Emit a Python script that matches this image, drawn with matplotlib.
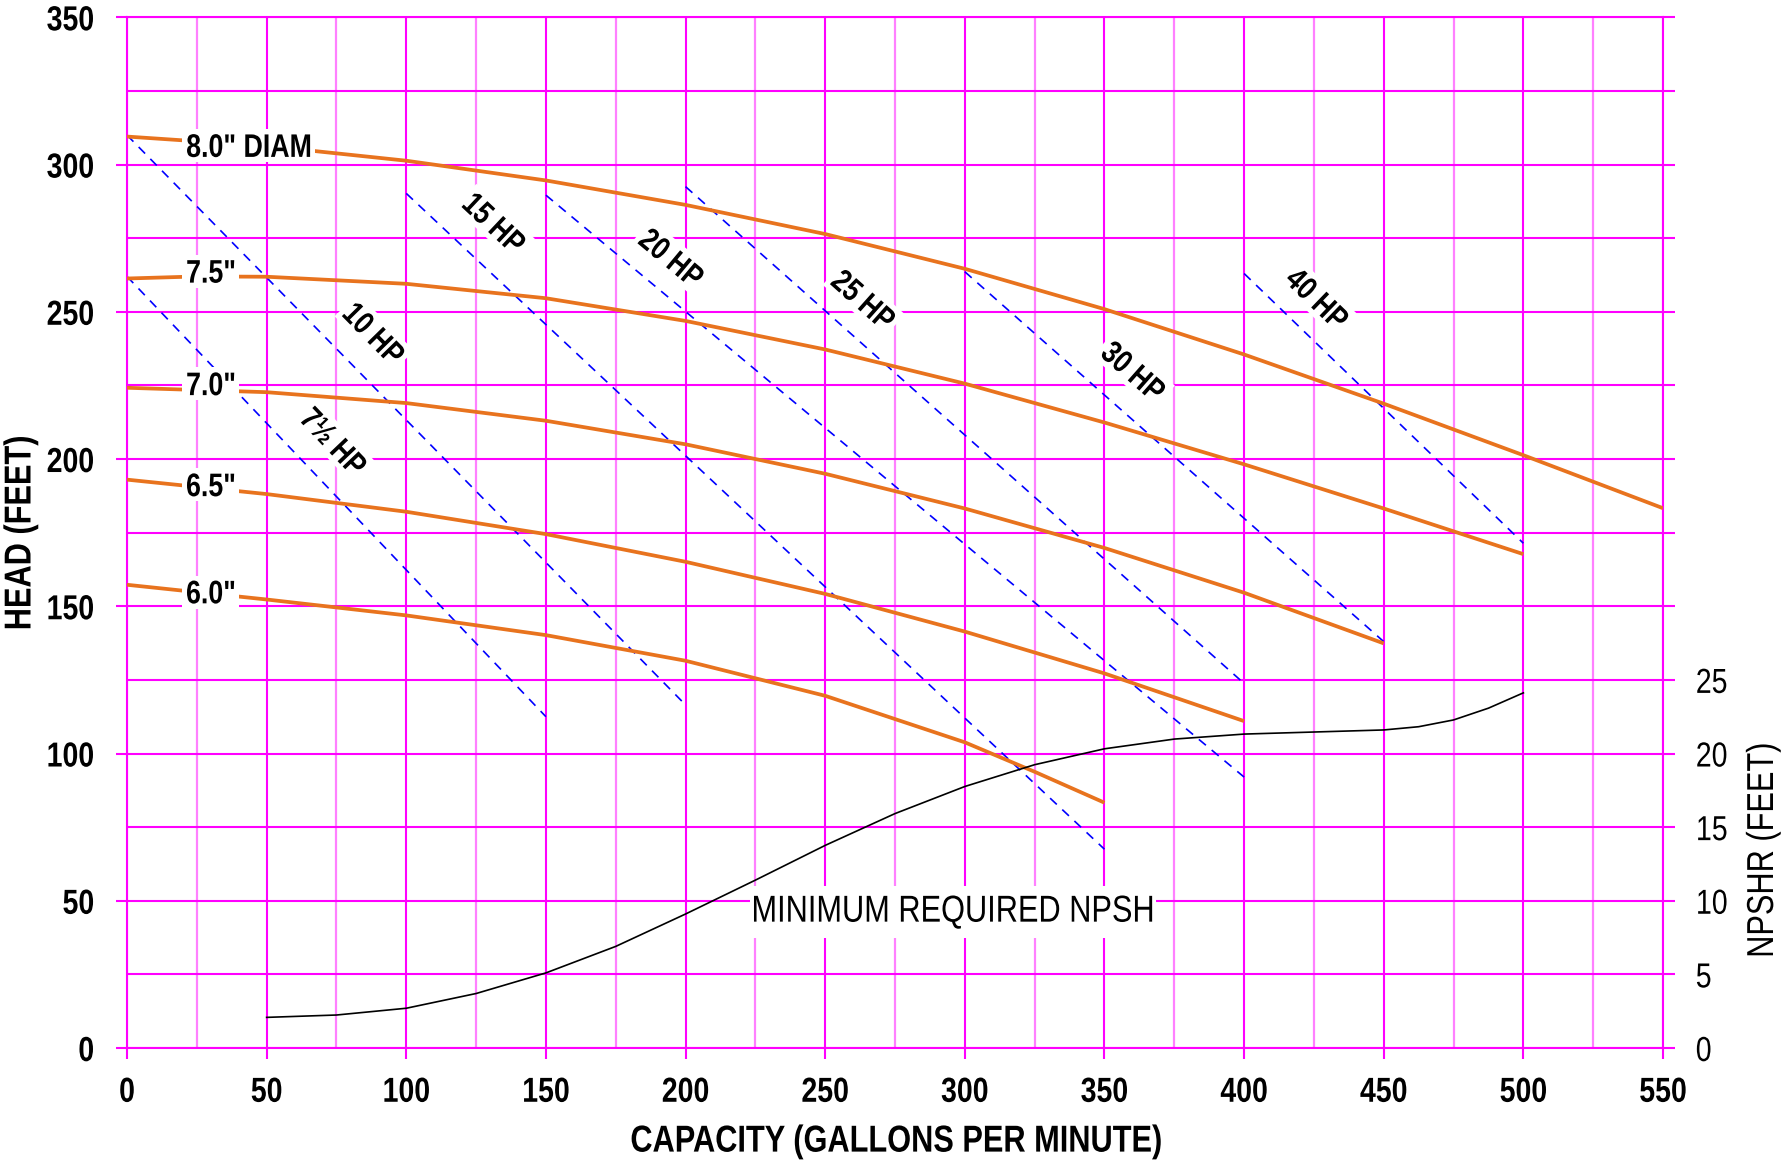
import numpy as np
import matplotlib
matplotlib.use("Agg")
import matplotlib.pyplot as plt
from matplotlib import font_manager
from matplotlib.patheffects import AbstractPathEffect
from matplotlib.transforms import Affine2D
from matplotlib.path import Path

# ---------------- data ----------------
gpm_8_0 = [0, 50, 100, 150, 200, 250, 300, 350, 400, 450, 500, 550]
head_8_0 = [309.5, 306.3, 301.3, 294.6, 286.3, 276.4, 264.6, 250.9, 235.5, 218.8, 201.3, 183.3]

gpm_7_5 = [0, 25, 50, 100, 150, 200, 250, 300, 350, 400, 450, 500]
head_7_5 = [261.3, 262.0, 261.9, 259.5, 254.6, 246.9, 237.2, 225.6, 212.4, 198.2, 183.2, 167.7]

gpm_7_0 = [0, 50, 100, 150, 200, 250, 300, 350, 400, 450]
head_7_0 = [224.2, 222.7, 219.0, 213.0, 205.0, 195.0, 183.2, 169.8, 154.6, 137.4]

gpm_6_5 = [0, 50, 100, 150, 200, 250, 300, 350, 400]
head_6_5 = [193.0, 188.1, 182.1, 174.5, 165.1, 154.2, 141.4, 127.2, 111.0]

gpm_6_0 = [0, 50, 100, 150, 200, 250, 300, 325, 350]
head_6_0 = [157.3, 152.3, 146.9, 140.2, 131.5, 119.6, 103.8, 93.8, 83.3]

diam_labels = ['8.0" DIAM', '7.5"', '7.0"', '6.5"', '6.0"']
diam_label_gpm = [43.7, 30.1, 30.1, 30.1, 30.1]
diam_label_head = [302.6, 259.9, 221.7, 187.4, 151.0]

hp_labels = ['7½ HP', '10 HP', '15 HP', '20 HP', '25 HP', '30 HP', '40 HP']
hp_start_gpm = [0, 0, 100, 150, 200, 300, 400]
hp_start_head = [262.0, 310.0, 290.2, 289.6, 292.5, 263.6, 263.0]
hp_end_gpm = [150, 200, 350, 400, 400, 450, 500]
hp_end_head = [112.5, 116.5, 67.5, 92.0, 123.8, 138.0, 171.4]
hp_label_gpm = [73.3, 87.7, 130.8, 194.4, 263.1, 359.8, 425.6]
hp_label_head = [205.3, 242.0, 279.5, 267.6, 253.4, 229.1, 253.8]

npsh_gpm = [50, 75, 100, 125, 150, 175, 200, 225, 250, 275, 300, 325, 350, 375,
            400, 425, 450, 462.5, 475, 487.5, 500]
npsh_ft = [2.08, 2.24, 2.70, 3.70, 5.10, 6.90, 9.10, 11.40, 13.76, 15.92, 17.76,
           19.24, 20.32, 20.98, 21.32, 21.46, 21.60, 21.82, 22.28, 23.08, 24.12]

x_ticks = list(range(0, 551, 50))
y_ticks = list(range(0, 351, 50))
npsh_ticks = list(range(0, 26, 5))

# ---------------- style ----------------
names = {f.name for f in font_manager.fontManager.ttflist}
HAS_NARROW = "Liberation Sans Narrow" in names
NARROW = "Liberation Sans Narrow" if HAS_NARROW else "Liberation Sans"
SX = 1.0 if HAS_NARROW else 0.82
plt.rcParams["font.family"] = [NARROW, "DejaVu Sans"]

MAG = "#FF00FF"
MAG_L = "#FF80FF"
ORANGE = "#E8731E"
BLUE = "#0000FF"


class Squeeze(AbstractPathEffect):
    """Condense glyphs horizontally (narrow typeface look), optional white box."""

    def __init__(self, sx=SX, anchor="center", bg=False, padx=4, pady=4):
        super().__init__()
        self.sx, self.anchor, self.bg = sx, anchor, bg
        self.padx, self.pady = padx, pady

    def draw_path(self, renderer, gc, tpath, affine, rgbFace=None):
        ext = tpath.get_extents()
        if self.anchor == "left":
            cx = ext.x0
        elif self.anchor == "right":
            cx = ext.x1
        else:
            cx = 0.5 * (ext.x0 + ext.x1)
        sq = Affine2D().translate(-cx, 0).scale(self.sx, 1).translate(cx, 0)
        if self.bg:
            m = affine.get_matrix()
            scale = np.hypot(m[0, 0], m[1, 0])
            px, py = self.padx / scale, self.pady / scale
            x0 = cx + (ext.x0 - cx) * self.sx - px
            x1 = cx + (ext.x1 - cx) * self.sx + px
            y0, y1 = ext.y0 - py, ext.y1 + py
            rect = Path([[x0, y0], [x1, y0], [x1, y1], [x0, y1], [x0, y0]], closed=True)
            gc0 = renderer.new_gc()
            gc0.copy_properties(gc)
            gc0.set_linewidth(0)
            gc0.set_foreground("white")
            renderer.draw_path(gc0, rect, affine, (1, 1, 1))
            gc0.restore()
        renderer.draw_path(gc, tpath, sq + affine, rgbFace)


fig = plt.figure(figsize=(17.9, 11.68), dpi=100)
ax = fig.add_axes([127 / 1790, 120 / 1168, 1536 / 1790, 1030.7 / 1168])
ax.set_xlim(0, 550)
ax.set_ylim(0, 350)

ax.set_xticks(x_ticks)
ax.set_xticks(np.arange(25, 550, 50), minor=True)
ax.set_yticks(y_ticks)
ax.set_yticks(np.arange(25, 350, 50), minor=True)
ax.grid(which="major", axis="both", color=MAG, lw=1.5, zorder=0)
ax.grid(which="minor", axis="y", color=MAG, lw=1.5, zorder=0)
ax.grid(which="minor", axis="x", color=MAG_L, lw=1.6, zorder=0)
ax.set_axisbelow(True)
for s in ax.spines.values():
    s.set_color(MAG)
    s.set_linewidth(1.5)

ax.tick_params(axis="both", which="major", direction="out", length=8, width=1.5,
               color=MAG, labelsize=25)
ax.tick_params(axis="x", which="major", pad=12)
ax.tick_params(axis="y", which="major", pad=15.5)
ax.tick_params(axis="both", which="minor", length=0)
for lab in ax.get_xticklabels() + ax.get_yticklabels():
    lab.set_fontweight("bold")

# diameter curves
for g, h in [(gpm_8_0, head_8_0), (gpm_7_5, head_7_5), (gpm_7_0, head_7_0),
             (gpm_6_5, head_6_5), (gpm_6_0, head_6_0)]:
    ax.plot(g, h, color=ORANGE, lw=2.7, solid_capstyle="butt", zorder=3)

for t, x, y in zip(diam_labels, diam_label_gpm, diam_label_head):
    ax.text(x, y, t, fontsize=23.5, fontweight="bold", ha="center", va="baseline",
            zorder=5, path_effects=[Squeeze(bg=True, padx=5, pady=5)])

# horsepower lines
for x0, y0, x1, y1 in zip(hp_start_gpm, hp_start_head, hp_end_gpm, hp_end_head):
    ax.plot([x0, x1], [y0, y1], color=BLUE, lw=1.2, dashes=(5.5, 4.5), zorder=2)

for t, x, y, x0, y0, x1, y1 in zip(hp_labels, hp_label_gpm, hp_label_head,
                                   hp_start_gpm, hp_start_head, hp_end_gpm, hp_end_head):
    p0 = ax.transData.transform((x0, y0))
    p1 = ax.transData.transform((x1, y1))
    ang = np.degrees(np.arctan2(p1[1] - p0[1], p1[0] - p0[0]))
    ax.text(x, y, t, fontsize=23, fontweight="bold", ha="center", va="center",
            rotation=ang, rotation_mode="anchor", zorder=5,
            path_effects=[Squeeze(bg=True, padx=5, pady=5)])

# NPSH axis
ax2 = ax.twinx()
ax2.set_ylim(0, 70)
ax2.set_yticks(np.arange(0, 71, 5))
ax2.set_yticklabels([str(v) if v in npsh_ticks else "" for v in range(0, 71, 5)])
ax2.tick_params(axis="y", direction="out", length=8.6, width=1.5, color=MAG,
                labelsize=25, pad=14.8)
for s in ax2.spines.values():
    s.set_visible(False)
ax2.plot(npsh_gpm, npsh_ft, color="black", lw=1.2, zorder=4)
ax2.text(295.8, 46.3 / 5, "MINIMUM REQUIRED NPSH", fontsize=27, ha="center", va="center",
         zorder=5, path_effects=[Squeeze(bg=True, padx=4, pady=9)])

t1 = fig.text(20.5 / 1790, 1 - 533 / 1168, "HEAD (FEET)", rotation=90, fontsize=27,
              fontweight="bold", ha="center", va="center")
t2 = fig.text(896 / 1790, 1 - 1141.6 / 1168, "CAPACITY (GALLONS PER MINUTE)", fontsize=27,
              fontweight="bold", ha="center", va="center")
t3 = fig.text(1763 / 1790, 1 - 850 / 1168, "NPSHR (FEET)", rotation=90, fontsize=27,
              ha="center", va="center")
for t in (t1, t2, t3):
    t.set_path_effects([Squeeze()])

fig.canvas.draw()
for lab in ax.get_xticklabels():
    lab.set_path_effects([Squeeze(anchor="center")])
for lab in ax.get_yticklabels():
    lab.set_path_effects([Squeeze(anchor="right")])
for lab in ax2.get_yticklabels():
    lab.set_path_effects([Squeeze(anchor="left")])

fig.savefig("out.png", dpi=100, facecolor="white")
